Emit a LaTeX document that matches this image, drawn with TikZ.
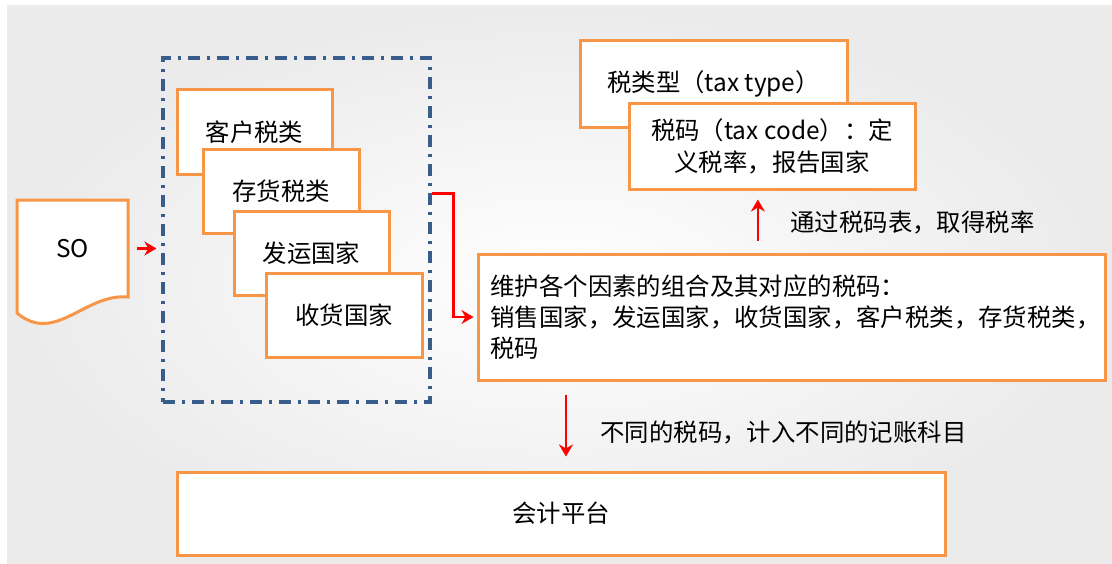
\documentclass[tikz,border=0pt]{standalone}
\usepackage{fontspec}
\setmainfont{Noto Sans CJK SC}
\usetikzlibrary{calc,arrows.meta}
\definecolor{boxorange}{RGB}{247,150,70}
\definecolor{frameblue}{RGB}{56,93,138}

\begin{document}
\begin{tikzpicture}[x=0.5pt,y=-0.5pt,font=\fontsize{12.2pt}{16pt}\selectfont]
\tikzstyle{every node}+=[inner sep=0pt]
\tikzstyle{taxbox}=[draw=boxorange,fill=white,line width=1.5pt]
\tikzstyle{dashframe}=[draw=frameblue,line width=1.6pt,dash pattern=on 6pt off 3.5pt on 1.5pt off 3.5pt]
\tikzstyle{redarrow}=[draw=red,line width=1.3pt,-{Stealth[length=6pt,width=7pt]}]
\useasboundingbox (0,0) rectangle (1112,563);
\shade[inner color=white,outer color=black!8] (7,5) rectangle (1112,563);
\coordinate (docnw) at (17,200);
\coordinate (docse) at (128,297);
\filldraw[boxorange,fill=white,line width=1.5pt] (docnw) -- (docnw -| docse) -- (docse)
  .. controls ($(docse)+(-43,-4)$) and ($(docse)+(-73,48)$) .. ($(docnw |- docse)+(0,16)$) -- cycle;
\node (so) at ($(docnw)!0.5!(docse)$) {SO};
\node[dashframe,minimum width=133.5pt,minimum height=172pt] (grp) at (296.5,230) {};
\node[taxbox,minimum width=77.5pt,minimum height=42.5pt] (khsl) at (254.5,132) {客户税类};
\node[taxbox,minimum width=78pt,minimum height=42pt] (chsl) at (281,191) {存货税类};
\node[taxbox,minimum width=77.5pt,minimum height=42pt] (fygj) at (311.5,253) {发运国家};
\node[taxbox,minimum width=78pt,minimum height=42pt] (shgj) at (344,315) {收货国家};
\node[taxbox,minimum width=313.5pt,minimum height=63pt,text width=301pt,align=left,
  font=\fontsize{12.2pt}{15.5pt}\selectfont] (wh) at (791.5,317)
  {维护各个因素的组合及其对应的税码：\\销售国家，发运国家，收货国家，客户税类，存货税类，\\税码};
\node[taxbox,minimum width=133.5pt,minimum height=43.5pt] (slx) at (713.5,83.5) {税类型（tax type）};
\node[taxbox,minimum width=143pt,minimum height=43pt,align=center] (sm) at (772,146)
  {税码（tax code）：定\\义税率，报告国家};
\node[taxbox,minimum width=384pt,minimum height=41.5pt] (kjpt) at (561,513.5) {会计平台};
\node[anchor=west] (qdsl) at (790,222) {通过税码表，取得税率};
\node[anchor=west] (jrkm) at (600,432) {不同的税码，计入不同的记账科目};
\draw[redarrow,shorten <=4.5pt,shorten >=2.5pt] (so -| docse) -- (so -| grp.west);
\draw[redarrow,shorten >=1.5pt] ($(grp.north east)!0.395!(grp.south east)$) -- ++(22,0) |- (wh.west);
\draw[redarrow,shorten <=6pt,shorten >=4.5pt] ($(wh.north west)!0.4466!(wh.north east)$) coordinate (upfoot)
  -- (upfoot |- sm.south);
\draw[redarrow,shorten <=6.5pt,shorten >=7pt] ($(wh.south west)!0.142!(wh.south east)$) coordinate (dnfoot)
  -- (dnfoot |- kjpt.north);
\end{tikzpicture}
\end{document}
